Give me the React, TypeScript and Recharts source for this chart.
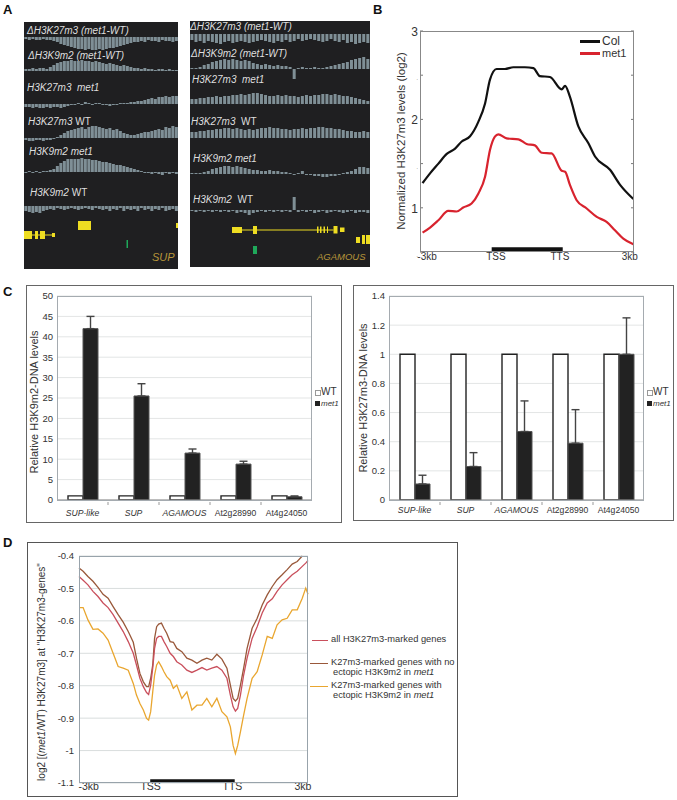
import type { ReactNode } from 'react'
import {
  Bar,
  BarChart,
  CartesianGrid,
  ComposedChart,
  ErrorBar,
  Line,
  LineChart,
  ReferenceArea,
  ReferenceLine,
  XAxis,
  YAxis,
} from 'recharts'

const FONT = '"Liberation Sans", Arial, sans-serif'

// panel A, browser tracks: signal per bin along the locus
const supDeltaK27 = [-2,-3,-2,-3,-3,-2,-3,-3,-4,-5,-7,-8,-9,-10,-11,-12,-12,-13,-12,-13,-13,-12,-13,-12,-11,-11,-10,-9,-8,-7,-6,-5,-5,-4,-5,-3,-4,-4,-5,-3,-4,-4,-5,-4]
const supDeltaK9 = [2,2,3,2,3,3,2,4,6,8,9,10,10,11,10,10,11,10,10,9,10,9,8,7,8,7,6,5,6,5,4,3,3,2,3,2,2,1,2,2,1,2,1,1]
const supK27Met1 = [-3,-3,-4,-3,-4,-4,-3,-4,-3,-3,-4,-3,-2,-1,-1,1,-1,2,1,-1,1,1,-1,-1,-2,-1,-1,1,1,1,2,2,3,3,4,5,6,5,7,7,8,7,8,8]
const supK27Wt = [-2,-3,-3,-2,-2,-3,-2,-2,-1,1,3,5,7,8,9,10,11,9,11,12,12,11,10,9,10,8,9,7,5,4,3,3,4,5,6,6,7,8,9,8,11,10,12,11]
const supK9Met1 = [-1,1,-1,1,-1,1,1,2,3,6,9,11,13,13,13,13,14,13,13,12,12,11,10,10,9,8,7,7,6,5,4,3,2,1,-1,-1,-2,-1,-2,-3,-1,-2,-1,-2]
const supK9Wt = [-5,-6,-7,-6,-7,-5,-4,-3,-4,-2,-3,-4,-3,-2,-3,-4,-3,-2,-3,-4,-2,-3,-4,-3,-5,-3,-4,-2,-5,-3,-4,-3,-5,-2,-4,-3,-5,-3,-4,-2,-5,-4,-3,-5]

const agDeltaK27 = [-6,-8,-7,-9,-7,-8,-9,-10,-8,-7,-9,-8,-7,-8,-9,-8,-7,-6,-7,-8,-9,-7,-8,-6,-8,-7,-5,-7,-6,-5,-6,-7,-8,-7,-5,-7,-8,-6,-9,-8,-10,-9,-8,-9]
const agDeltaK9 = [1,1,2,4,5,7,8,9,10,9,10,9,8,9,8,6,5,4,5,4,3,4,3,3,2,-10,1,2,1,1,2,1,1,2,3,4,5,6,7,9,10,11,12,10]
const agK27Met1 = [5,5,6,6,7,7,8,7,8,8,9,9,10,9,10,11,11,10,9,8,8,9,8,9,8,8,7,8,9,8,9,9,10,10,9,10,9,8,8,7,6,5,4,3]
const agK27Wt = [6,6,7,7,8,8,9,9,10,10,9,10,9,8,9,8,9,10,10,11,10,10,9,9,8,9,9,10,9,10,10,11,11,10,10,9,9,8,7,7,6,6,7,6]
const agK9Met1 = [1,1,1,2,3,5,6,7,8,8,7,8,7,6,5,4,4,3,3,4,3,3,2,2,1,-1,1,3,-1,-1,-2,-2,-3,-3,-2,-2,-1,1,2,3,5,7,7,6]
const agK9Wt = [-1,-2,-1,-2,-1,-2,-1,-2,-1,-2,-1,-3,-2,-3,-5,-3,-2,-1,-2,-1,-2,-1,-2,-1,-2,13,-2,-1,-2,-1,-3,-2,-1,-3,-2,-1,-2,-3,-2,-1,-3,-2,-2,-3]

// gene models: [start, end, laneTop, laneBottom]
const supExons = [[0,8,12,20],[11,14,12,20],[16,21,12,20],[28,31,14,18],[54,67,2,11],[152,154,4,9]]
const supTransposon = [[102.5,104,21,29]]
const agExons = [[42,52,8,14],[63,67,7,15],[127,128.5,7.5,14],[130,131.5,7.5,14],[133.5,135,7.5,14],[137,138,7.5,14],[143.5,147.5,7,14.5],[150,154.5,8.5,13],[166,170,18,24],[172,175,16,25],[176,180,16,25]]
const agTransposon = [[63,67,27,35]]

// panel B
const colX = [1.2,4.7,8.6,12.5,16.4,19.5,23.4,27.3,30.4,32.7,35.8,39.7,43.6,49,53,56,60.7,66.2,67.8,70,74,78.7,81.8,88.8,93.5,99.7]
const colY = [1.28,1.39,1.5,1.61,1.67,1.75,1.81,1.975,2.18,2.45,2.57,2.57,2.59,2.59,2.58,2.49,2.48,2.34,2.38,2.26,1.92,1.73,1.58,1.43,1.26,1.1]
const met1X = [1.2,4.7,8.6,13.2,17.1,20.2,24.1,27.3,30.4,32.7,35,36.6,40.5,46,49.8,53.7,56.9,61.5,66.2,67.8,70.1,73.2,77.9,82.6,87.2,91.1,95,99.7]
const met1Y = [0.719,0.776,0.859,0.965,0.958,1.003,1.048,1.162,1.351,1.654,1.805,1.831,1.786,1.775,1.722,1.706,1.623,1.616,1.419,1.408,1.256,1.086,0.992,0.897,0.84,0.746,0.651,0.587]

// panel C
const loci = ['SUP-like', 'SUP', 'AGAMOUS', 'At2g28990', 'At4g24050']
const k9Wt = [1, 1, 1, 1, 1]
const k9Met1 = [42, 25.5, 11.5, 8.8, 0.8]
const k9Err = [3, 3, 1, 0.7, 0.2]
const k27Wt = [1, 1, 1, 1, 1]
const k27Met1 = [0.11, 0.23, 0.47, 0.39, 1.0]
const k27Err = [0.06, 0.095, 0.21, 0.23, 0.25]

// panel D
const binX = [0,1.8,3.9,6.1,8.3,10.5,12.7,14.9,17.1,19.3,21.5,23.7,25.1,26.6,28.1,29.5,30.4,31.3,32.2,33,33.9,34.8,36,37.1,38.3,39.8,41.2,42.7,44.9,47.1,49.3,51.5,53.7,55.8,58,60.2,62.4,64.6,66.1,67.3,68.3,69.3,70.5,71.9,73.4,75.6,77.8,80,82.2,84.4,86.5,88.7,90.9,93.1,95.3,97.5,99,100]
const allGenes = [-0.463,-0.475,-0.489,-0.509,-0.525,-0.545,-0.559,-0.581,-0.607,-0.633,-0.664,-0.7,-0.736,-0.777,-0.803,-0.821,-0.827,-0.798,-0.746,-0.685,-0.654,-0.648,-0.648,-0.664,-0.679,-0.7,-0.71,-0.726,-0.736,-0.752,-0.759,-0.752,-0.744,-0.752,-0.746,-0.741,-0.752,-0.777,-0.829,-0.865,-0.878,-0.87,-0.829,-0.767,-0.715,-0.654,-0.618,-0.576,-0.545,-0.532,-0.509,-0.489,-0.473,-0.458,-0.447,-0.432,-0.422,-0.414]
const noEctopic = [-0.437,-0.447,-0.463,-0.478,-0.497,-0.518,-0.53,-0.556,-0.581,-0.604,-0.633,-0.666,-0.715,-0.762,-0.788,-0.803,-0.803,-0.777,-0.736,-0.654,-0.618,-0.61,-0.607,-0.623,-0.638,-0.664,-0.666,-0.685,-0.695,-0.715,-0.721,-0.731,-0.721,-0.715,-0.721,-0.703,-0.718,-0.746,-0.798,-0.839,-0.847,-0.839,-0.798,-0.746,-0.685,-0.623,-0.592,-0.551,-0.52,-0.494,-0.473,-0.458,-0.442,-0.425,-0.417,-0.4,null,null]
const ectopic = [-0.559,-0.559,-0.597,-0.626,-0.625,-0.638,-0.659,-0.7,-0.741,-0.746,-0.752,-0.793,-0.829,-0.855,-0.875,-0.901,-0.906,-0.88,-0.819,-0.767,-0.736,-0.726,-0.741,-0.757,-0.772,-0.783,-0.808,-0.798,-0.839,-0.819,-0.875,-0.86,-0.86,-0.839,-0.865,-0.839,-0.88,-0.896,-0.927,-0.984,-1.009,-0.984,-0.942,-0.891,-0.839,-0.777,-0.757,-0.705,-0.648,-0.654,-0.612,-0.597,-0.592,-0.566,-0.566,-0.53,-0.499,-0.518]

const bTicks = [0.5, 1, 1.5, 2, 2.5, 3]
const bXTicks = [3.3, 35.5, 65.4, 98]
const bXLabels = ['-3kb', 'TSS', 'TTS', '3kb']
const dXTicks = [4.2, 31.3, 67, 97.8]
const k9Ticks = [0, 5, 10, 15, 20, 25, 30, 35, 40, 45, 50]
const k27Ticks = [0, 0.2, 0.4, 0.6, 0.8, 1, 1.2, 1.4]
const dTicks = [-0.4, -0.5, -0.6, -0.7, -0.8, -0.9, -1, -1.1]

const TEXT = '#333'
const TRACK = '#7f8f96'
const YELLOW = '#eedd22'
const GREEN = '#1fa85a'

function At({ left, top, size = 11, color = TEXT, style, children }: {
  left: number
  top: number
  size?: number
  color?: string
  style?: any
  children: ReactNode
}) {
  return (
    <div
      style={{
        position: 'absolute',
        left,
        top,
        fontSize: size,
        color,
        lineHeight: 1,
        whiteSpace: 'pre',
        transform: 'translateY(-50%)',
        ...style,
      }}
    >
      {children}
    </div>
  )
}

function VTitle({ x, y, size = 11, children }: { x: number; y: number; size?: number; children: ReactNode }) {
  return (
    <div
      style={{
        position: 'absolute',
        left: x,
        top: y,
        fontSize: size,
        color: TEXT,
        lineHeight: 1,
        whiteSpace: 'pre',
        transform: 'translate(-50%,-50%) rotate(-90deg)',
      }}
    >
      {children}
    </div>
  )
}

function Frame({ left, top, right, bottom, color = '#666', width = 1 }: any) {
  return (
    <div
      style={{
        position: 'absolute',
        left,
        top,
        width: right - left,
        height: bottom - top,
        boxSizing: 'border-box',
        border: `${width}px solid ${color}`,
        pointerEvents: 'none',
      }}
    />
  )
}

function Track({ values, left, width, baseline }: { values: number[]; left: number; width: number; baseline: number }) {
  const data = values.map((v, i) => ({ i, v }))
  return (
    <div style={{ position: 'absolute', left, top: baseline - 14 }}>
      <BarChart width={width} height={28} data={data} margin={{ top: 0, right: 0, bottom: 0, left: 0 }} barCategoryGap="10%">
        <XAxis dataKey="i" hide />
        <YAxis hide domain={[-14, 14]} allowDataOverflow />
        <Bar dataKey="v" fill={TRACK} isAnimationActive={false} />
      </BarChart>
    </div>
  )
}

function Genes({ left, top, width, height, exons, transposons, intron }: any) {
  return (
    <div style={{ position: 'absolute', left, top }}>
      <ComposedChart
        width={width}
        height={height}
        data={[{ x: 0, y: 0 }, { x: width, y: height }]}
        margin={{ top: 0, right: 0, bottom: 0, left: 0 }}
      >
        <XAxis dataKey="x" type="number" hide domain={[0, width]} />
        <YAxis type="number" hide domain={[0, height]} reversed />
        <Line dataKey="y" stroke="none" dot={false} isAnimationActive={false} />
        <ReferenceLine
          segment={[{ x: intron[0], y: intron[2] }, { x: intron[1], y: intron[2] }]}
          stroke={YELLOW}
          strokeWidth={1}
        />
        {exons.map((e: number[], i: number) => (
          <ReferenceArea key={i} x1={e[0]} x2={e[1]} y1={e[2]} y2={e[3]} fill={YELLOW} fillOpacity={1} stroke="none" />
        ))}
        {transposons.map((e: number[], i: number) => (
          <ReferenceArea key={`t${i}`} x1={e[0]} x2={e[1]} y1={e[2]} y2={e[3]} fill={GREEN} fillOpacity={1} stroke="none" />
        ))}
      </ComposedChart>
    </div>
  )
}

function BrowserPanel({ left, top, width, height, children }: any) {
  return <div style={{ position: 'absolute', left, top, width, height, background: '#1f1f21' }}>{children}</div>
}

function TrackLabel({ left, top, children }: { left: number; top: number; children: ReactNode }) {
  return (
    <At left={left} top={top} size={10} color="#dedede" style={{ fontStyle: 'italic' }}>
      {children}
    </At>
  )
}

// y tick with inward marks on both sides of the plot box, as in the Matlab panel
function BTick({ x, y, payload }: any) {
  const major = Number.isInteger(payload.value)
  return (
    <g>
      <line x1={x} x2={x + 3} y1={y} y2={y} stroke="#777" />
      <line x1={x + 211} x2={x + 214} y1={y} y2={y} stroke="#777" />
      <text x={x - 2} y={y + 5} textAnchor="end" fontSize={major ? 12 : 5} fill={TEXT} fontFamily={FONT}>
        {major ? payload.value : '.'}
      </text>
    </g>
  )
}

function LocusTick({ x, y, payload, index, dy = 14, step = 51 }: any) {
  const name = payload.value
  const italic = !name.startsWith('At')
  return (
    <g>
      {index < 4 && <line x1={x + step / 2} x2={x + step / 2} y1={y} y2={y + 3} stroke="#999" />}
      <text x={x} y={y + dy} textAnchor="middle" fontSize={8.6} fill={TEXT} fontFamily={FONT} fontStyle={italic ? 'italic' : 'normal'}>
        {name}
      </text>
    </g>
  )
}

function QpcrChart({ left, top, width, height, plotLeft, wt, met1, err, ticks, domain, labelDy }: any) {
  const data = loci.map((locus, i) => ({ locus, wt: wt[i], met1: met1[i], err: [0, err[i]] }))
  return (
    <div style={{ position: 'absolute', left, top }}>
      <BarChart
        width={width}
        height={height}
        data={data}
        margin={{ top: 11, right: width - plotLeft - 255, bottom: 0, left: 0 }}
        barSize={15}
        barGap={0}
      >
        <CartesianGrid stroke="#e3e5e5" vertical={false} />
        <XAxis
          dataKey="locus"
          height={height - 11 - 204}
          axisLine={{ stroke: '#888' }}
          tickLine={false}
          tickSize={0}
          interval={0}
          tick={<LocusTick dy={labelDy} />}
        />
        <YAxis
          width={plotLeft}
          domain={domain}
          ticks={ticks}
          interval={0}
          tickLine={false}
          tickSize={0}
          axisLine={false}
          tickMargin={4}
          tick={{ fontSize: 9.5, fill: TEXT, fontFamily: FONT }}
        />
        <Bar dataKey="wt" fill="#fff" stroke="#222" strokeWidth={1.4} isAnimationActive={false} />
        <Bar dataKey="met1" fill="#222" stroke="#555" strokeWidth={1} isAnimationActive={false}>
          <ErrorBar dataKey="err" direction="y" width={4} stroke="#444" strokeWidth={1.4} isAnimationActive={false} />
        </Bar>
      </BarChart>
    </div>
  )
}

function QpcrLegend({ left, top }: { left: number; top: number }) {
  return (
    <>
      <div style={{ position: 'absolute', left, top: top - 2.5, width: 4, height: 4, border: '1px solid #999', background: '#fff' }} />
      <At left={left + 6} top={top} size={10}>WT</At>
      <div style={{ position: 'absolute', left, top: top + 9, width: 5, height: 5, background: '#222' }} />
      <At left={left + 6} top={top + 12} size={8} style={{ fontStyle: 'italic' }}>met1</At>
    </>
  )
}

function LegendLine({ left, top, width, color, height = 1.5 }: any) {
  return <div style={{ position: 'absolute', left, top, width, height, background: color }} />
}

export default function App() {
  const colData = colX.map((x, i) => ({ x, y: colY[i] }))
  const met1Data = met1X.map((x, i) => ({ x, y: met1Y[i] }))
  const dData = binX.map((x, i) => ({ x, all: allGenes[i], no: noEctopic[i], ect: ectopic[i] }))

  return (
    <div style={{ position: 'absolute', left: 0, top: 0, width: 677, height: 800, background: '#fff', fontFamily: FONT, overflow: 'hidden' }}>
      <At left={3} top={9} size={13} color="#111" style={{ fontWeight: 700 }}>A</At>
      <At left={373} top={9} size={13} color="#111" style={{ fontWeight: 700 }}>B</At>
      <At left={3} top={291} size={13} color="#111" style={{ fontWeight: 700 }}>C</At>
      <At left={3} top={542} size={13} color="#111" style={{ fontWeight: 700 }}>D</At>

      {/* A */}
      <BrowserPanel left={24} top={22} width={154} height={247} />
      <BrowserPanel left={190} top={21} width={180} height={246} />
      <Track values={supDeltaK27} left={24} width={154} baseline={37} />
      <Track values={supDeltaK9} left={24} width={154} baseline={71} />
      <Track values={supK27Met1} left={24} width={154} baseline={104} />
      <Track values={supK27Wt} left={24} width={154} baseline={138} />
      <Track values={supK9Met1} left={24} width={154} baseline={172} />
      <Track values={supK9Wt} left={24} width={154} baseline={206} />
      <Track values={agDeltaK27} left={190} width={180} baseline={34} />
      <Track values={agDeltaK9} left={190} width={180} baseline={69} />
      <Track values={agK27Met1} left={190} width={180} baseline={104} />
      <Track values={agK27Wt} left={190} width={180} baseline={138} />
      <Track values={agK9Met1} left={190} width={180} baseline={174} />
      <Track values={agK9Wt} left={190} width={180} baseline={210} />
      <Genes left={24} top={219} width={154} height={31} exons={supExons} transposons={supTransposon} intron={[8, 28, 16]} />
      <Genes left={190} top={219} width={180} height={37} exons={agExons} transposons={agTransposon} intron={[52, 143.5, 11]} />

      <TrackLabel left={27} top={31}>ΔH3K27m3 (met1-WT)</TrackLabel>
      <TrackLabel left={28} top={56}>ΔH3K9m2 (met1-WT)</TrackLabel>
      <TrackLabel left={27} top={88}>H3K27m3  met1</TrackLabel>
      <TrackLabel left={28} top={122}>H3K27m3 <span style={{ fontStyle: 'normal' }}>WT</span></TrackLabel>
      <TrackLabel left={29} top={152}>H3K9m2 met1</TrackLabel>
      <TrackLabel left={30} top={193}>H3K9m2 <span style={{ fontStyle: 'normal' }}>WT</span></TrackLabel>
      <At left={152} top={257} size={11} color="#b8963a" style={{ fontStyle: 'italic' }}>SUP</At>

      <TrackLabel left={190} top={27}>ΔH3K27m3 (met1-WT)</TrackLabel>
      <TrackLabel left={191} top={54}>ΔH3K9m2 (met1-WT)</TrackLabel>
      <TrackLabel left={192} top={80}>H3K27m3  met1</TrackLabel>
      <TrackLabel left={191} top={122}>H3K27m3  <span style={{ fontStyle: 'normal' }}>WT</span></TrackLabel>
      <TrackLabel left={193} top={159}>H3K9m2 met1</TrackLabel>
      <TrackLabel left={193} top={200}>H3K9m2  <span style={{ fontStyle: 'normal' }}>WT</span></TrackLabel>
      <At left={317} top={257} size={9.5} color="#b8963a" style={{ fontStyle: 'italic' }}>AGAMOUS</At>

      {/* B */}
      <div style={{ position: 'absolute', left: 400, top: 20 }}>
        <LineChart width={240} height={251} margin={{ top: 11, right: 6, bottom: 0, left: 0 }}>
          <XAxis
            dataKey="x"
            type="number"
            domain={[0, 100]}
            ticks={bXTicks}
            interval={0}
            height={19}
            tickLine={false}
            tickSize={0}
            tickMargin={1}
            axisLine={false}
            tickFormatter={(v) => bXLabels[bXTicks.indexOf(v)]}
            tick={{ fontSize: 10, fill: TEXT, fontFamily: FONT }}
          />
          <YAxis
            type="number"
            width={20}
            domain={[0.5, 3]}
            ticks={bTicks}
            interval={0}
            tickLine={false}
            tickSize={0}
            tickMargin={0}
            axisLine={false}
            tick={<BTick />}
          />
          <ReferenceLine
            segment={[{ x: 33.5, y: 0.53 }, { x: 66.7, y: 0.53 }]}
            stroke="#111"
            strokeWidth={4}
          />
          <Line data={colData} dataKey="y" type="monotone" stroke="#111" strokeWidth={2.2} dot={false} isAnimationActive={false} />
          <Line data={met1Data} dataKey="y" type="monotone" stroke="#d8232e" strokeWidth={2.2} dot={false} isAnimationActive={false} />
        </LineChart>
      </div>
      <Frame left={420} top={31} right={634} bottom={252} color="#888" />
      <VTitle x={402} y={141} size={11.5}>Normalized H3K27m3 levels (log2)</VTitle>
      <LegendLine left={580} top={40} width={20} height={2.5} color="#111" />
      <LegendLine left={580} top={52} width={20} height={2.5} color="#d8232e" />
      <At left={602} top={41} size={12}>Col</At>
      <At left={602} top={53} size={11}>met1</At>

      {/* C left */}
      <Frame left={26} top={285} right={342} bottom={523} color="#666" />
      <QpcrChart left={27} top={285} width={310} height={236} plotLeft={30} wt={k9Wt} met1={k9Met1} err={k9Err} ticks={k9Ticks} domain={[0, 50]} labelDy={14} />
      <Frame left={57} top={296} right={312} bottom={501} color="#a5abb0" />
      <VTitle x={34} y={402} size={11}>Relative H3K9m2-DNA levels</VTitle>
      <QpcrLegend left={315} top={392} />

      {/* C right */}
      <Frame left={353} top={285} right={674} bottom={521} color="#666" />
      <QpcrChart left={354} top={285} width={300} height={234} plotLeft={35} wt={k27Wt} met1={k27Met1} err={k27Err} ticks={k27Ticks} domain={[0, 1.4]} labelDy={11} />
      <Frame left={389} top={296} right={644} bottom={501} color="#a5abb0" />
      <VTitle x={363} y={398} size={11}>Relative H3K27m3-DNA levels</VTitle>
      <QpcrLegend left={647} top={392} />

      {/* D */}
      <Frame left={27} top={542} right={458} bottom={797} color="#555" />
      <div style={{ position: 'absolute', left: 49, top: 546 }}>
        <LineChart width={280} height={250} data={dData} margin={{ top: 10, right: 21, bottom: 0, left: 0 }}>
          <CartesianGrid stroke="#d9dddd" vertical={false} />
          <XAxis
            dataKey="x"
            type="number"
            domain={[0, 100]}
            ticks={dXTicks}
            interval={0}
            height={13}
            tickLine={false}
            tickSize={0}
            tickMargin={0}
            axisLine={false}
            tickFormatter={(v) => bXLabels[dXTicks.indexOf(v)]}
            tick={{ fontSize: 10.5, fill: TEXT, fontFamily: FONT }}
          />
          <YAxis
            type="number"
            width={30}
            domain={[-1.1, -0.4]}
            ticks={dTicks}
            interval={0}
            tickLine={false}
            tickSize={0}
            tickMargin={5}
            axisLine={false}
            tick={{ fontSize: 9.5, fill: TEXT, fontFamily: FONT }}
          />
          <ReferenceLine
            segment={[{ x: 31.1, y: -1.093 }, { x: 68, y: -1.093 }]}
            stroke="#111"
            strokeWidth={3}
          />
          <Line dataKey="ect" type="linear" stroke="#e9a62f" strokeWidth={1.3} dot={false} isAnimationActive={false} />
          <Line dataKey="no" type="linear" stroke="#99583a" strokeWidth={1.3} dot={false} isAnimationActive={false} />
          <Line dataKey="all" type="linear" stroke="#c94f5c" strokeWidth={1.3} dot={false} isAnimationActive={false} />
        </LineChart>
      </div>
      <Frame left={79} top={556} right={308} bottom={783} color="#98a3ab" width={1.5} />
      <VTitle x={42} y={672} size={10}>
        log2 [(<i>met1</i>/WT) H3K27m3] at "H3K27m3-genes"
      </VTitle>
      <LegendLine left={312} top={639.5} width={16} color="#c94f5c" />
      <LegendLine left={310} top={662.5} width={18} color="#99583a" />
      <LegendLine left={310} top={685.5} width={18} color="#e9a62f" />
      <At left={331} top={640} size={9.3}>all H3K27m3-marked genes</At>
      <At left={331} top={663} size={9.3}>K27m3-marked genes with no</At>
      <At left={333} top={673} size={9.3}>ectopic H3K9m2 in <i>met1</i></At>
      <At left={331} top={686} size={9.3}>K27m3-marked genes with</At>
      <At left={333} top={696} size={9.3}>ectopic H3K9m2 in <i>met1</i></At>
    </div>
  )
}
